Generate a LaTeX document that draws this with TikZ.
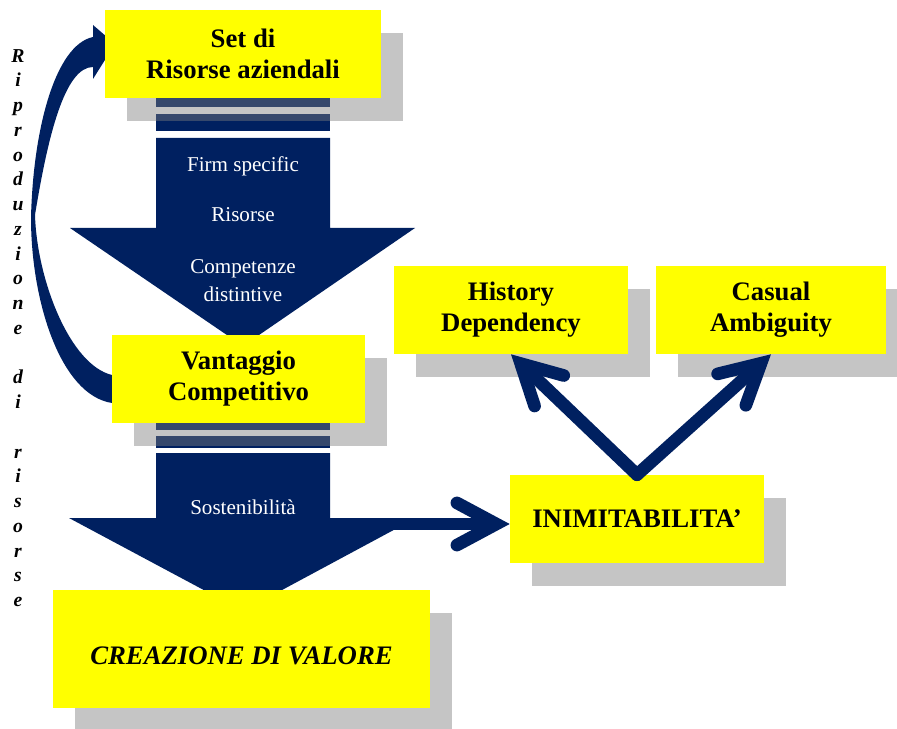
\documentclass[tikz,border=0pt]{standalone}
\usepackage{fontspec}
\setmainfont{Liberation Serif}
\usetikzlibrary{arrows.meta,shadows}
\definecolor{navy}{RGB}{0,32,96}
\definecolor{boxyellow}{RGB}{255,255,0}
\definecolor{shadowgray}{RGB}{124,124,124}

\begin{document}
\begin{tikzpicture}[x=0.025cm,y=-0.025cm,
    box/.style={fill=boxyellow,inner sep=0pt,align=center,minimum height=2.2cm,
      font=\fontsize{19}{22}\selectfont\bfseries,
      drop shadow={shadow xshift=0.55cm,shadow yshift=-0.575cm,fill=shadowgray,opacity=0.443}},
    inarrow/.style={text=white,font=\fontsize{15}{20}\selectfont,align=center},
    conn/.style={draw=navy,line width=9pt,line cap=round,
      -{Straight Barb[length=28pt,width=30pt,line cap=round,line join=miter]}}]
    \useasboundingbox (0,0) rectangle (897,729);
    % curved arrow on the left
    \fill[navy] (112,403) .. controls (60,395) and (31,300) .. (31,218)
      .. controls (33,130) and (55,45) .. (93,37) -- (93,25) -- (115,44) -- (93,79) -- (93,67)
      .. controls (65,67) and (48,135) .. (35,215)
      .. controls (37,280) and (70,365) .. (112,375) -- cycle;
    % upper block arrow
    \fill[navy] (156,90) rectangle (330,107);
    \fill[navy] (156,114) rectangle (330,131);
    \fill[navy] (156,138) -- (330,138) -- (330,228) -- (415,228) -- (243,346)
      -- (70,228) -- (156,228) -- cycle;
    % lower block arrow
    \fill[navy] (156,415) rectangle (330,430);
    \fill[navy] (156,436) rectangle (330,448);
    \fill[navy] (156,453) -- (330,453) -- (330,518) -- (416,518) -- (243,611)
      -- (69,518) -- (156,518) -- cycle;
    % texts in the arrows
    \node[inarrow] (firm) at (243,166) {Firm specific};
    \node[inarrow] (ris) at (243,215) {Risorse};
    \node[inarrow] (comp) at (243,281) {Competenze\\distintive};
    \node[inarrow] (sost) at (243,507) {Sostenibilità};
    % boxes
    \node[box,minimum width=6.9cm] (risorse) at (243,54) {Set di\\Risorse aziendali};
    \node[box,minimum width=6.325cm] (vantaggio) at (238.5,379) {Vantaggio\\Competitivo};
    \node[box,minimum width=5.85cm] (hist) at (511,310) {History\\Dependency};
    \node[box,minimum width=5.75cm] (casual) at (771,310) {Casual\\Ambiguity};
    \node[box,minimum width=6.35cm] (inim) at (637,519) {INIMITABILITA’};
    \node[box,minimum width=9.425cm,minimum height=2.95cm,text height=22pt,text depth=0pt,
      font=\fontsize{19}{22}\selectfont\bfseries\itshape]
      (valore) at (241.5,649) {CREAZIONE DI VALORE};
    % vertical label
    \node[font=\fontsize{14}{17.6}\selectfont\bfseries\itshape,align=center] (ripro) at (18,328)
      {R\\i\\p\\r\\o\\d\\u\\z\\i\\o\\n\\e\\\mbox{}\\d\\i\\\mbox{}\\r\\i\\s\\o\\r\\s\\e};
    % connectors
    \coordinate (sostS) at (390,524);
    \draw[conn] (sostS) -- (sostS -| inim.west);
    \draw[conn] (inim.north) -- (hist.south);
    \draw[conn] (inim.north) -- (casual.south);
\end{tikzpicture}
\end{document}
